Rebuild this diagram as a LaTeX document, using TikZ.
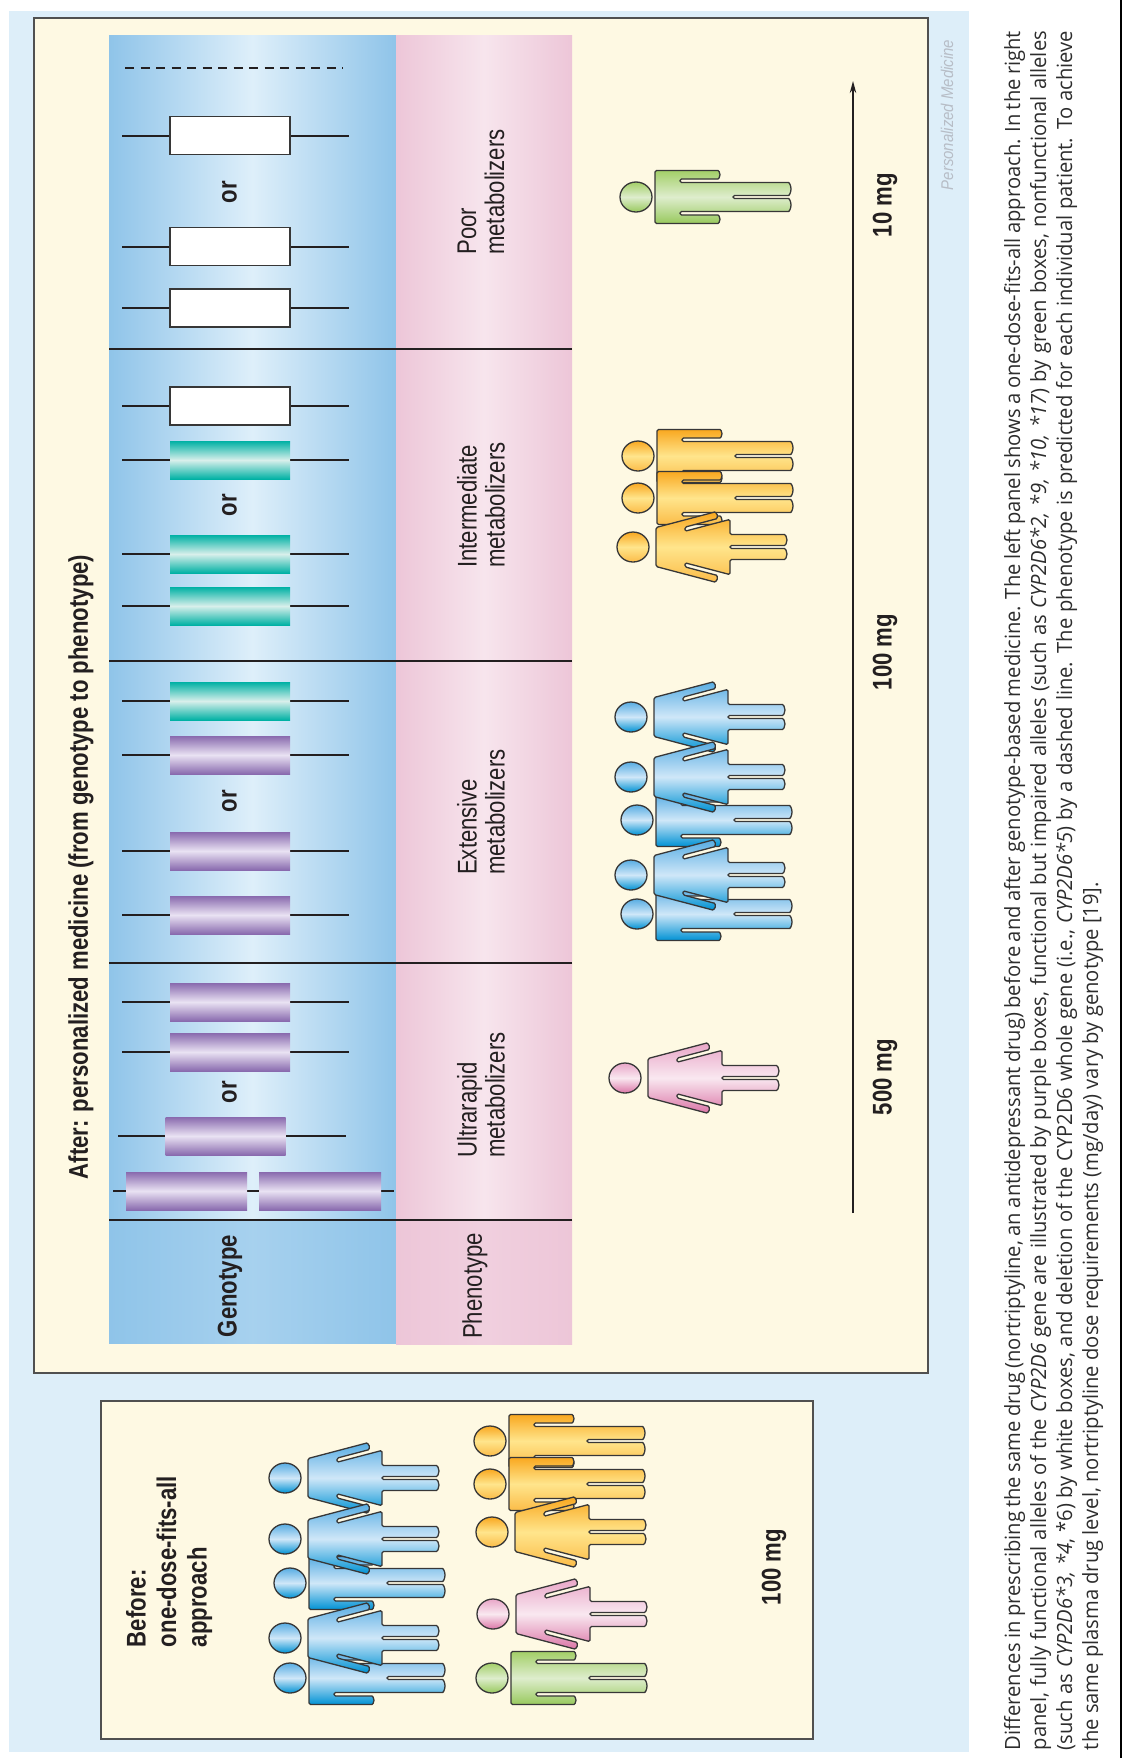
\documentclass[tikz,border=0pt]{standalone}
\usepackage{fontspec}
\setmainfont{Liberation Sans}
\newfontfamily\labfont[FakeStretch=0.82]{Liberation Sans}
\newfontfamily\markfont[FakeStretch=0.88]{Liberation Sans}
\newfontfamily\capfont[FakeStretch=0.96]{Open Sans}
\usetikzlibrary{arrows.meta}

% colours
\definecolor{pagebg}{RGB}{221,238,249}
\definecolor{panelbg}{RGB}{254,249,227}
\definecolor{panelrule}{RGB}{80,80,80}
\definecolor{inkdark}{RGB}{35,31,32}
\definecolor{capink}{RGB}{45,45,45}
\definecolor{colblueD}{RGB}{143,196,233}
\definecolor{colblueL}{RGB}{222,239,250}
\definecolor{colpinkD}{RGB}{237,198,216}
\definecolor{colpinkL}{RGB}{247,229,237}
\definecolor{purD}{RGB}{137,106,174}
\definecolor{purL}{RGB}{233,226,243}
\definecolor{tealD}{RGB}{0,177,164}
\definecolor{tealL}{RGB}{216,239,235}
\definecolor{figline}{RGB}{55,55,55}
\definecolor{blueT}{RGB}{88,173,227}
\definecolor{blueM}{RGB}{207,231,248}
\definecolor{blueB}{RGB}{0,146,212}
\definecolor{pinkT}{RGB}{233,166,200}
\definecolor{pinkM}{RGB}{249,232,240}
\definecolor{pinkB}{RGB}{219,118,167}
\definecolor{orngT}{RGB}{249,168,32}
\definecolor{orngM}{RGB}{255,229,140}
\definecolor{orngB}{RGB}{251,188,72}
\definecolor{grnT}{RGB}{163,207,104}
\definecolor{grnM}{RGB}{222,237,205}
\definecolor{grnB}{RGB}{152,201,93}
\definecolor{markgray}{RGB}{183,189,198}

% figure outlines, drawn upright in a local frame (origin = shoulder centre)
\newcommand\malebody{(-26.5,0) -- (26.5,0) -- (26.5,-61.5)
  arc[start angle=0,end angle=-180,x radius=4.25,y radius=3.5] -- (18,-25) -- (14.5,-25)
  -- (14.5,-132) arc[start angle=0,end angle=-180,x radius=6.5,y radius=4]
  -- (1.5,-78) -- (-1.5,-78) -- (-1.5,-132)
  arc[start angle=0,end angle=-180,x radius=6.5,y radius=4]
  -- (-14.5,-25) -- (-18,-25) -- (-18,-61.5)
  arc[start angle=0,end angle=-180,x radius=4.25,y radius=3.5] -- cycle}
\newcommand\femalebody{(-19.5,0) -- (19.5,0) -- (34.55,-57.05)
  arc[start angle=14.8,end angle=-165.2,radius=3.5] -- (19.9,-29) -- (15.8,-29)
  -- (27.6,-74) -- (12.5,-74) -- (12.5,-127)
  arc[start angle=0,end angle=-180,x radius=5.5,y radius=4]
  -- (1.5,-74) -- (-1.5,-74) -- (-1.5,-127)
  arc[start angle=0,end angle=-180,x radius=5.5,y radius=4]
  -- (-12.5,-74) -- (-27.6,-74) -- (-15.8,-29) -- (-19.9,-29) -- (-27.78,-58.84)
  arc[start angle=-14.8,end angle=-194.8,radius=3.5] -- cycle}

\tikzset{
  rot/.style={rotate=90, inner sep=0pt, outer sep=0pt},
  lbl/.style={rot, text=inkdark, font=\labfont\fontsize{13.5}{14}\selectfont},
  lblb/.style={rot, text=inkdark, font=\labfont\bfseries\fontsize{13.5}{14}\selectfont},
  phenolbl/.style={lbl, align=left},
  geneline/.style={draw=inkdark, line width=1pt},
  genebox/.style={minimum width=60pt, minimum height=19pt, inner sep=0pt, outer sep=0pt},
  purplebox/.style={genebox, top color=purD, bottom color=purD, middle color=purL},
  tealbox/.style={genebox, top color=tealD, bottom color=tealD, middle color=tealL},
  whitebox/.style={genebox, fill=white, draw=figline, line width=0.75pt},
  seprule/.style={draw=inkdark, line width=1.25pt},
  panel/.style={fill=panelbg, draw=panelrule, line width=1pt},
  bluecell/.style={left color=colblueD, right color=colblueD, middle color=colblueL},
  pinkcell/.style={left color=colpinkD, right color=colpinkD, middle color=colpinkL},
  personfill/.style={draw=figline, line width=0.65pt, rounded corners=0.75pt,
    top color=#1T, bottom color=#1B, middle color=#1M},
  caprow/.style={rot, anchor=base west, text=capink, font=\capfont\fontsize{10.5}{13}\selectfont},
}

% one allele: a gene line with a box on it
\newcommand\allele[3]{%
  \draw[geneline] (122,#3) -- (349,#3);
  \node[#1] (#2) at (230,#3) {};}

% people, placed by shoulder centre (px, py)
\newcommand\maleicon[3]{%
  \begin{scope}[shift={(#1,#2)}, x={(0pt,0.5pt)}, y={(-0.5pt,0pt)}]
    \path[personfill=#3] \malebody;
    \path[personfill=#3] (0,19) ellipse [x radius=15, y radius=16];
  \end{scope}}
\newcommand\femaleicon[3]{%
  \begin{scope}[shift={(#1,#2)}, x={(0pt,0.5pt)}, y={(-0.5pt,0pt)}]
    \path[personfill=#3] \femalebody;
    \path[personfill=#3] (0,23) ellipse [x radius=15, y radius=16];
  \end{scope}}

\begin{document}
\begin{tikzpicture}[x=0.5pt, y=-0.5pt]
\useasboundingbox (0,0) rectangle (1124,1758);
\fill[pagebg] (9,11) rectangle (969,1752);
\draw[black, line width=0.75pt] (1121,0) -- (1121,1758);

% ---------- after: personalised medicine ----------
\path[panel] (34,18) rectangle (928,1373);

% genotype column
\fill[bluecell] (109,35) rectangle (396,349);
\fill[bluecell] (109,349) rectangle (396,661);
\fill[bluecell] (109,661) rectangle (396,963);
\fill[bluecell] (109,963) rectangle (396,1220);
\fill[left color=colblueD, right color=colblueD, middle color=colblueD!70!colblueL] (109,1220) rectangle (396,1343);
% phenotype column
\fill[pinkcell] (396,35) rectangle (572,349);
\fill[pinkcell] (396,349) rectangle (572,661);
\fill[pinkcell] (396,661) rectangle (572,963);
\fill[pinkcell] (396,963) rectangle (572,1220);
\fill[left color=colpinkD, right color=colpinkD, middle color=colpinkD!70!colpinkL] (396,1220) rectangle (572,1344);

\foreach \yy in {349,661,963,1220} \draw[seprule] (109,\yy) -- (572,\yy);

\node[lblb] (title) at (81,867) {After: personalized medicine (from genotype to phenotype)};
\node[lblb] (genohead) at (230,1286) {Genotype};
\node[lbl] (phenohead) at (475,1286) {Phenotype};

% poor metabolizers
\draw[inkdark, line width=0.8pt, dash pattern=on 4.5pt off 3.25pt] (125,68) -- (343,68);
\allele{whitebox}{pm1}{135.5}
\node[lblb] (or-pm) at (229.5,192) {or};
\allele{whitebox}{pm2}{246.5}
\allele{whitebox}{pm3}{308}

% intermediate metabolizers
\allele{whitebox}{im1}{406}
\allele{tealbox}{im2}{460}
\node[lblb] (or-im) at (229.5,505) {or};
\allele{tealbox}{im3}{554}
\allele{tealbox}{im4}{606}

% extensive metabolizers
\allele{tealbox}{em1}{701}
\allele{purplebox}{em2}{755}
\node[lblb] (or-em) at (229.5,801) {or};
\allele{purplebox}{em3}{851}
\allele{purplebox}{em4}{915}

% ultrarapid metabolizers
\allele{purplebox}{um1}{1002}
\allele{purplebox}{um2}{1052}
\node[lblb] (or-um) at (229.5,1092) {or};
\draw[geneline] (118,1136) -- (346,1136);
\node[purplebox] (um3) at (225.5,1136) {};
\draw[geneline] (113,1191) -- (394,1191);
\node[purplebox, minimum width=60.5pt] (um4a) at (186.5,1191) {};
\node[purplebox, minimum width=61pt] (um4b) at (320,1191) {};

\node[phenolbl] (ph-pm) at (481,192) {Poor\\metabolizers};
\node[phenolbl] (ph-im) at (481,505) {Intermediate\\metabolizers};
\node[phenolbl] (ph-em) at (481,812) {Extensive\\metabolizers};
\node[phenolbl] (ph-um) at (481,1095) {Ultrarapid\\metabolizers};

% patients per phenotype
\maleicon{655}{197}{grn}
\maleicon{657}{456}{orng}
\maleicon{657}{498}{orng}
\femaleicon{656}{547}{orng}
\maleicon{656}{820}{blue}
\maleicon{656}{914}{blue}
\femaleicon{654}{717}{blue}
\femaleicon{654}{777}{blue}
\femaleicon{654}{875}{blue}
\femaleicon{648}{1078}{pink}

% dose axis
\coordinate (axis-lo) at (853,1213);
\coordinate (axis-hi) at (853,81);
\draw[inkdark, line width=0.85pt, -{Stealth[length=6pt,width=3.2pt]}] (axis-lo) -- (axis-hi);
\node[lblb] (dose10) at (885,205) {10 mg};
\node[lblb] (dose100) at (885,652) {100 mg};
\node[lblb] (dose500) at (885,1077) {500 mg};

\node[rot, text=markgray, font=\markfont\itshape\fontsize{8.5}{10}\selectfont] (mark) at (947,115) {Personalized Medicine};

% ---------- before: one dose for all ----------
\path[panel] (101,1401) rectangle (813,1739);
\node[lblb, align=left, anchor=north west, font=\labfont\bfseries\fontsize{13.5}{15.25}\selectfont] (beforehead) at (126,1647) {Before:\\one-dose-fits-all\\approach};

\maleicon{309}{1583}{blue}
\maleicon{309}{1678}{blue}
\femaleicon{308}{1478}{blue}
\femaleicon{308}{1539}{blue}
\femaleicon{308}{1638}{blue}
\maleicon{509}{1441}{orng}
\maleicon{509}{1484}{orng}
\maleicon{511}{1678}{grn}
\femaleicon{515}{1532}{orng}
\femaleicon{516}{1614}{pink}

\node[lblb] (doseall) at (774,1567) {100 mg};

% ---------- caption ----------
\node[caprow] (cap1) at (1020,1750) {\hbox to 859.5pt{Differences in prescribing the same drug (nortriptyline, an antidepressant drug) before and after genotype-based medicine. The left panel shows a one-dose-fits-all approach. In the right}};
\node[caprow] (cap2) at (1046,1750) {\hbox to 859.5pt{panel, fully functional alleles of the \textit{CYP2D6} gene are illustrated by purple boxes, functional but impaired alleles (such as \textit{CYP2D6*2, *9, *10, *17}) by green boxes, nonfunctional alleles}};
\node[caprow] (cap3) at (1072,1750) {\hbox to 859.5pt{(such as \textit{CYP2D6*3, *4}, *6) by white boxes, and deletion of the CYP2D6 whole gene (i.e., \textit{CYP2D6*5}) by a dashed line. The phenotype is predicted for each individual patient. To achieve}};
\node[caprow] (cap4) at (1098,1750) {the same plasma drug level, nortriptyline dose requirements (mg/day) vary by genotype [19].};
\end{tikzpicture}
\end{document}
